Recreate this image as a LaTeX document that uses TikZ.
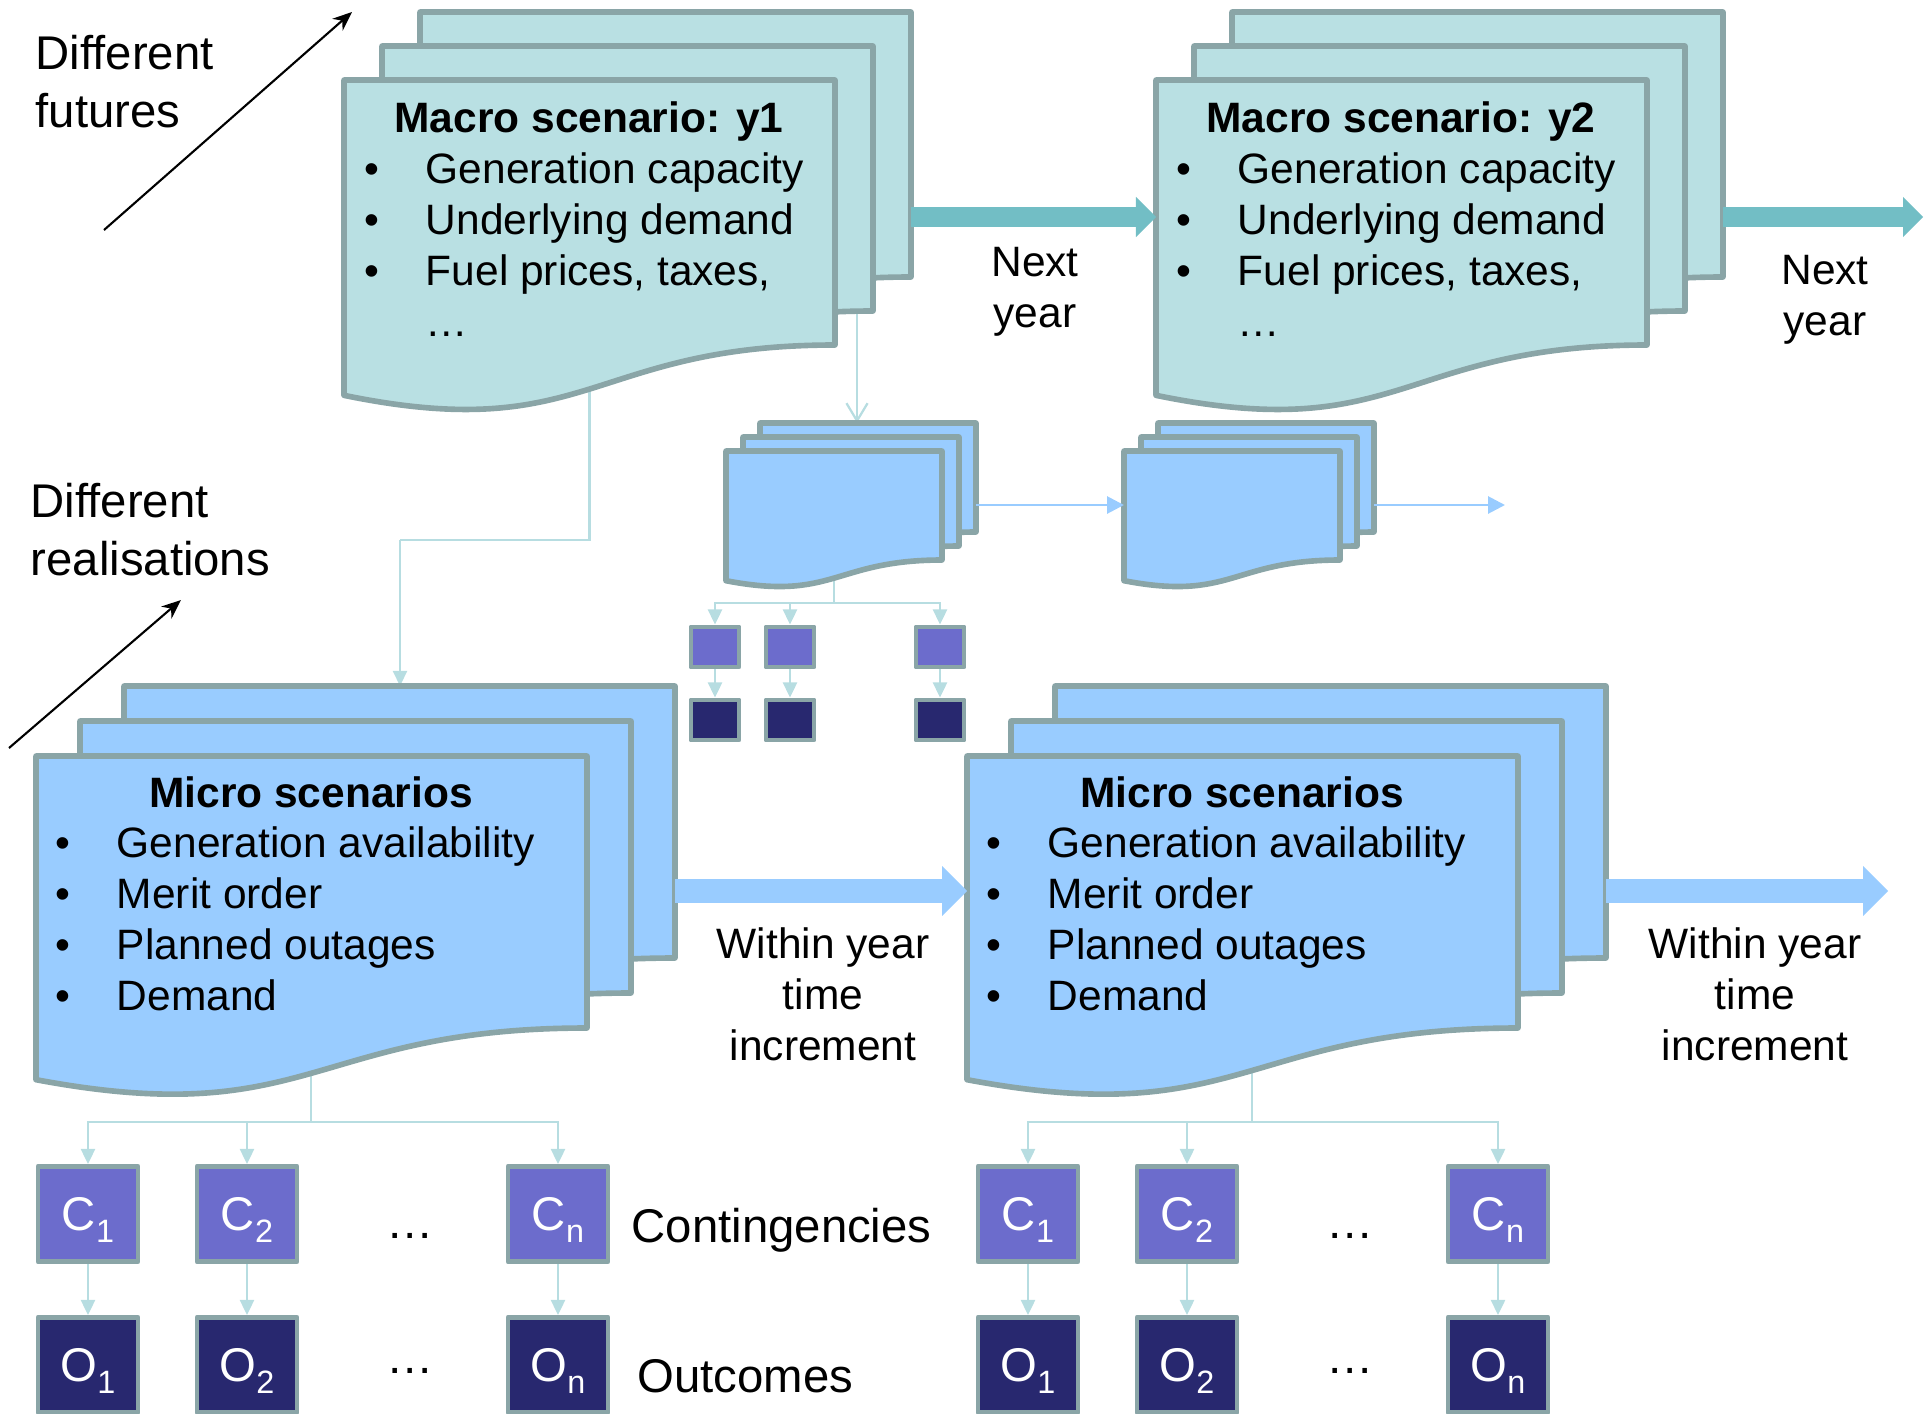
\documentclass[tikz,border=0pt]{standalone}
\usepackage{fontspec}
\setmainfont{Liberation Sans}
\usetikzlibrary{arrows.meta,calc}
\pgfdeclarelayer{background}
\pgfsetlayers{background,main}

\definecolor{macrofill}{HTML}{B9E0E3}
\definecolor{microfill}{HTML}{99CCFF}
\definecolor{sheetline}{HTML}{8AA5A7}
\definecolor{macroarrow}{HTML}{72BEC5}
\definecolor{linkline}{HTML}{B7DDE1}
\definecolor{contfill}{HTML}{6C6CCC}
\definecolor{outfill}{HTML}{28286F}

\newcommand{\docsheet}[6]{%
	\node[sheetbox, minimum width=#5*0.1mm, minimum height=#6*0.1mm] (#1) at (#3,#4) {};
	\filldraw[#2] (#1.north west) -- (#1.north east) -- (#1.south east)
		.. controls (#1.south) and ($(#1.south)+(0,0.38*#6)$) .. ($(#1.south west)+(0,0.19*#6)$) -- cycle;
}
\newcommand{\idx}[1]{\raisebox{-3.2pt}{\fontsize{9.2}{10}\selectfont #1}}
\newcommand{\bul}{\makebox[17.4pt][l]{•}}

\begin{document}
\begin{tikzpicture}[x=0.1mm, y=-0.1mm,
	sheetbox/.style={rectangle, anchor=north west, inner sep=0pt, outer sep=0pt},
	macrosheet/.style={fill=macrofill, draw=sheetline, line width=1.6pt, line join=round},
	microsheet/.style={fill=microfill, draw=sheetline, line width=1.6pt, line join=round},
	body/.style={inner sep=0pt, font=\fontsize{12.09}{14.5}\selectfont},
	heading/.style={inner sep=0pt, font=\fontsize{12.09}{14.5}\selectfont\bfseries, anchor=base},
	list/.style={body, anchor=base west, align=left},
	label/.style={inner sep=0pt, font=\fontsize{13.46}{16.3}\selectfont},
	csquare/.style={rectangle, draw=sheetline, line width=1.4pt, line join=round, fill=contfill, minimum width=4.8mm, minimum height=4mm, inner sep=0pt},
	osquare/.style={csquare, fill=outfill},
	cbox/.style={rectangle, draw=sheetline, line width=1.4pt, line join=round, fill=contfill, text=white, minimum width=10mm, minimum height=9.5mm, inner sep=0pt, font=\fontsize{13.46}{16}\selectfont, text height=9.6pt, text depth=0pt},
	obox/.style={cbox, fill=outfill},
	link/.style={draw=linkline, line width=0.65pt},
	linktip/.style={link, -{Triangle[length=4.3pt, width=4pt]}},
	macroflow/.style={draw=macroarrow, line width=5.7pt, -{Triangle[length=5.7pt, width=11.4pt, line width=0pt]}},
	microflow/.style={draw=microfill, line width=7.1pt, -{Triangle[length=7.1pt, width=14.2pt, line width=0pt]}},
	smallflow/.style={draw=microfill, line width=0.8pt, -{Triangle[length=4.8pt, width=4.8pt]}},
	farrow/.style={draw=black, line width=0.6pt, -{Stealth[length=5.5pt, width=4.5pt]}}]
	\clip (0,0) rectangle (1930,1413);

	\docsheet{macroA3}{macrosheet}{420}{12}{491}{265}
	\docsheet{macroA2}{macrosheet}{382}{46}{491}{265}
	\docsheet{macroA1}{macrosheet}{344}{80}{491}{265}
	\node[heading] (macroAtitle) at (589,132) {Macro scenario: y1};
	\node[list] (macroAlist) at (364,336) {\bul Generation capacity\\\bul Underlying demand\\\bul Fuel prices, taxes,\\\hspace*{17.4pt}…};

	\docsheet{macroB3}{macrosheet}{1232}{12}{491}{265}
	\docsheet{macroB2}{macrosheet}{1194}{46}{491}{265}
	\docsheet{macroB1}{macrosheet}{1156}{80}{491}{265}
	\node[heading] (macroBtitle) at (1401,132) {Macro scenario: y2};
	\node[list] (macroBlist) at (1176,336) {\bul Generation capacity\\\bul Underlying demand\\\bul Fuel prices, taxes,\\\hspace*{17.4pt}…};

	\docsheet{smallA3}{microsheet}{760}{423}{216}{109}
	\docsheet{smallA2}{microsheet}{743}{437}{216}{109}
	\docsheet{smallA1}{microsheet}{726}{451}{216}{109}
	\docsheet{smallB3}{microsheet}{1158}{423}{216}{109}
	\docsheet{smallB2}{microsheet}{1141}{437}{216}{109}
	\docsheet{smallB1}{microsheet}{1124}{451}{216}{109}

	\node[csquare] (sqC1) at (715,647) {};
	\node[csquare] (sqC2) at (790,647) {};
	\node[csquare] (sqC3) at (940,647) {};
	\node[osquare] (sqO1) at (715,720) {};
	\node[osquare] (sqO2) at (790,720) {};
	\node[osquare] (sqO3) at (940,720) {};

	\docsheet{microA3}{microsheet}{124}{686}{551}{272}
	\docsheet{microA2}{microsheet}{80}{721}{551}{272}
	\docsheet{microA1}{microsheet}{36}{756}{551}{272}
	\node[heading] (microAtitle) at (311,807) {Micro scenarios};
	\node[list] (microAlist) at (55,1010) {\bul Generation availability\\\bul Merit order\\\bul Planned outages\\\bul Demand};

	\docsheet{microB3}{microsheet}{1055}{686}{551}{272}
	\docsheet{microB2}{microsheet}{1011}{721}{551}{272}
	\docsheet{microB1}{microsheet}{967}{756}{551}{272}
	\node[heading] (microBtitle) at (1242,807) {Micro scenarios};
	\node[list] (microBlist) at (986,1010) {\bul Generation availability\\\bul Merit order\\\bul Planned outages\\\bul Demand};

	\node[cbox] (microAC1) at (88,1214) {C\idx{1}};
	\node[cbox] (microAC2) at (247,1214) {C\idx{2}};
	\node[cbox] (microACn) at (558,1214) {C\idx{n}};
	\node[obox] (microAO1) at (88,1365) {O\idx{1}};
	\node[obox] (microAO2) at (247,1365) {O\idx{2}};
	\node[obox] (microAOn) at (558,1365) {O\idx{n}};
	\node[cbox] (microBC1) at (1028,1214) {C\idx{1}};
	\node[cbox] (microBC2) at (1187,1214) {C\idx{2}};
	\node[cbox] (microBCn) at (1498,1214) {C\idx{n}};
	\node[obox] (microBO1) at (1028,1365) {O\idx{1}};
	\node[obox] (microBO2) at (1187,1365) {O\idx{2}};
	\node[obox] (microBOn) at (1498,1365) {O\idx{n}};

	\node[label, anchor=base] (microAdotsC) at (410,1238) {…};
	\node[label, anchor=base] (microAdotsO) at (410,1373) {…};
	\node[label, anchor=base] (microBdotsC) at (1350,1238) {…};
	\node[label, anchor=base] (microBdotsO) at (1350,1373) {…};
	\node[label, anchor=base west] (contingencies) at (631,1242) {Contingencies};
	\node[label, anchor=base west] (outcomes) at (637,1392) {Outcomes};

	\node[label, anchor=base west, align=left] (futures) at (35,127) {Different\\futures};
	\node[label, anchor=base west, align=left] (realisations) at (30,575) {Different\\realisations};
	\node[body, anchor=base, align=center] (nextA) at (1035,327) {Next\\year};
	\node[body, anchor=base, align=center] (nextB) at (1825,335) {Next\\year};
	\node[body, anchor=base, align=center] (withinA) at (823,1060) {Within year\\time\\increment};
	\node[body, anchor=base, align=center] (withinB) at (1755,1060) {Within year\\time\\increment};

	\coordinate (macroNext) at (1923,217);
	\draw[macroflow] (macroA3.east |- macroNext) -- (macroB1.west |- macroNext);
	\draw[macroflow] (macroB3.east |- macroNext) -- (macroNext);
	\coordinate (microNext) at (1888,891);
	\draw[microflow] (microA3.east |- microNext) -- (microB1.west |- microNext);
	\draw[microflow] (microB3.east |- microNext) -- (microNext);
	\coordinate (smallNext) at (1505,505);
	\draw[smallflow] (smallA3.east |- smallNext) -- (smallB1.west |- smallNext);
	\draw[smallflow] (smallB3.east |- smallNext) -- (smallNext);

	\coordinate (futuresTail) at (104,230);
	\coordinate (futuresHead) at (352,12);
	\draw[farrow] (futuresTail) -- (futuresHead);
	\coordinate (realisationsTail) at (9,748);
	\coordinate (realisationsHead) at (181,600);
	\draw[farrow] (realisationsTail) -- (realisationsHead);

	\begin{pgfonlayer}{background}
		\coordinate (macroSplit) at (400,540);
		\draw[link] (macroA1.center) |- (macroSplit);
		\draw[linktip] (macroSplit) -- (macroSplit |- microA3.north);
		\coordinate (macroDrop) at (857,200);
		\draw[link, -{Straight Barb[length=5pt, width=6pt]}] (macroDrop) -- (macroDrop |- smallA3.north);

		\coordinate (smallSplit) at (834,603);
		\draw[link] (smallA1.center) -- (smallSplit);
		\draw[linktip] (smallSplit) -| (sqC1);
		\draw[linktip] (smallSplit) -| (sqC2);
		\draw[linktip] (smallSplit) -| (sqC3);
		\draw[linktip] (sqC1) -- (sqO1);
		\draw[linktip] (sqC2) -- (sqO2);
		\draw[linktip] (sqC3) -- (sqO3);

		\coordinate (microASplit) at (311,1122);
		\draw[link] (microASplit |- microA1.center) -- (microASplit);
		\draw[linktip] (microASplit) -| (microAC1);
		\draw[linktip] (microASplit) -| (microAC2);
		\draw[linktip] (microASplit) -| (microACn);
		\draw[linktip] (microAC1) -- (microAO1);
		\draw[linktip] (microAC2) -- (microAO2);
		\draw[linktip] (microACn) -- (microAOn);

		\coordinate (microBSplit) at (1252,1122);
		\draw[link] (microBSplit |- microB1.center) -- (microBSplit);
		\draw[linktip] (microBSplit) -| (microBC1);
		\draw[linktip] (microBSplit) -| (microBC2);
		\draw[linktip] (microBSplit) -| (microBCn);
		\draw[linktip] (microBC1) -- (microBO1);
		\draw[linktip] (microBC2) -- (microBO2);
		\draw[linktip] (microBCn) -- (microBOn);
	\end{pgfonlayer}
\end{tikzpicture}
\end{document}
